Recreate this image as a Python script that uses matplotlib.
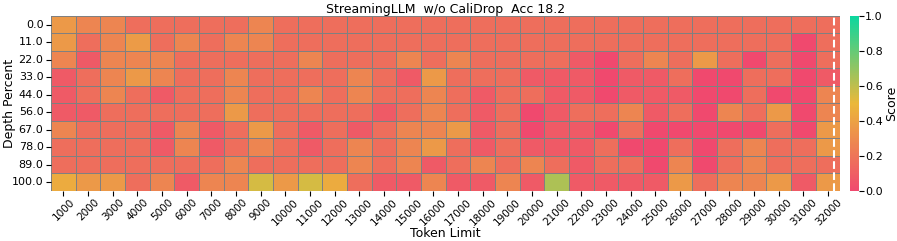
import matplotlib
matplotlib.use("Agg")
import matplotlib.pyplot as plt
from matplotlib.colors import LinearSegmentedColormap
import seaborn as sns
import numpy as np

# Token limits (columns) and depth percents (rows)
token_limits = [1000 * (i + 1) for i in range(32)]
depth_percents = [0.0, 11.0, 22.0, 33.0, 44.0, 56.0, 67.0, 78.0, 89.0, 100.0]

# Scores, one list per depth row
row_0 = [0.36, 0.27, 0.27, 0.17, 0.17, 0.17, 0.17, 0.17, 0.27, 0.17, 0.17, 0.17, 0.17, 0.17, 0.17, 0.17,
         0.17, 0.17, 0.17, 0.17, 0.17, 0.17, 0.17, 0.17, 0.17, 0.17, 0.17, 0.17, 0.17, 0.17, 0.17, 0.17]
row_11 = [0.36, 0.17, 0.27, 0.37, 0.17, 0.27, 0.17, 0.27, 0.27, 0.17, 0.17, 0.17, 0.17, 0.17, 0.17, 0.17,
          0.17, 0.17, 0.17, 0.17, 0.17, 0.17, 0.17, 0.17, 0.17, 0.17, 0.17, 0.17, 0.17, 0.17, 0.0, 0.17]
row_22 = [0.27, 0.08, 0.27, 0.27, 0.27, 0.17, 0.17, 0.17, 0.17, 0.17, 0.27, 0.17, 0.17, 0.17, 0.27, 0.17,
          0.27, 0.17, 0.17, 0.17, 0.17, 0.08, 0.0, 0.17, 0.27, 0.17, 0.36, 0.17, 0.0, 0.17, 0.0, 0.17]
row_33 = [0.08, 0.17, 0.27, 0.36, 0.27, 0.17, 0.17, 0.27, 0.17, 0.17, 0.17, 0.17, 0.27, 0.17, 0.08, 0.36,
          0.17, 0.17, 0.17, 0.08, 0.08, 0.08, 0.0, 0.08, 0.08, 0.17, 0.0, 0.0, 0.17, 0.17, 0.0, 0.08]
row_44 = [0.08, 0.17, 0.27, 0.17, 0.08, 0.17, 0.17, 0.27, 0.17, 0.17, 0.27, 0.17, 0.27, 0.17, 0.17, 0.27,
          0.17, 0.08, 0.17, 0.17, 0.08, 0.08, 0.0, 0.08, 0.08, 0.08, 0.0, 0.0, 0.17, 0.0, 0.0, 0.27]
row_56 = [0.08, 0.08, 0.17, 0.17, 0.17, 0.17, 0.17, 0.36, 0.17, 0.17, 0.17, 0.17, 0.17, 0.08, 0.17, 0.27,
          0.17, 0.08, 0.17, 0.0, 0.08, 0.17, 0.17, 0.27, 0.08, 0.17, 0.0, 0.27, 0.17, 0.36, 0.0, 0.27]
row_67 = [0.27, 0.17, 0.17, 0.17, 0.08, 0.27, 0.08, 0.17, 0.36, 0.17, 0.08, 0.17, 0.08, 0.17, 0.27, 0.27,
          0.36, 0.08, 0.17, 0.0, 0.08, 0.08, 0.0, 0.17, 0.0, 0.0, 0.0, 0.0, 0.0, 0.17, 0.0, 0.36]
row_78 = [0.17, 0.17, 0.17, 0.17, 0.08, 0.27, 0.08, 0.17, 0.27, 0.17, 0.08, 0.17, 0.27, 0.17, 0.27, 0.36,
          0.17, 0.08, 0.17, 0.08, 0.08, 0.08, 0.17, 0.0, 0.0, 0.17, 0.0, 0.17, 0.27, 0.17, 0.17, 0.36]
row_89 = [0.17, 0.17, 0.17, 0.17, 0.17, 0.17, 0.17, 0.27, 0.17, 0.17, 0.17, 0.17, 0.27, 0.17, 0.27, 0.08,
          0.17, 0.27, 0.17, 0.27, 0.17, 0.08, 0.17, 0.17, 0.0, 0.27, 0.0, 0.17, 0.27, 0.17, 0.17, 0.17]
row_100 = [0.44, 0.36, 0.36, 0.17, 0.27, 0.08, 0.27, 0.27, 0.55, 0.36, 0.55, 0.44, 0.17, 0.08, 0.08, 0.27,
           0.08, 0.08, 0.27, 0.08, 0.64, 0.08, 0.08, 0.08, 0.08, 0.36, 0.17, 0.27, 0.27, 0.36, 0.08, 0.36]

scores = np.array([row_0, row_11, row_22, row_33, row_44, row_56, row_67, row_78, row_89, row_100])

cmap = LinearSegmentedColormap.from_list("custom_cmap", ["#F0496E", "#EBB839", "#0CD79F"])

fig = plt.figure(figsize=(8.97, 2.41), dpi=100)
ax = fig.add_axes([0.057, 0.2075, 0.88, 0.7265])
cax = fig.add_axes([0.9476, 0.2075, 0.0095, 0.7265])

sns.heatmap(scores, ax=ax, cbar_ax=cax, cmap=cmap, vmin=0, vmax=1,
            linewidths=0.5, linecolor="grey",
            xticklabels=token_limits, yticklabels=depth_percents,
            cbar_kws={"label": "Score"})

ax.set_title("StreamingLLM  w/o CaliDrop  Acc 18.2", fontsize=9, pad=2)
ax.set_xlabel("Token Limit", fontsize=9, labelpad=0)
ax.set_ylabel("Depth Percent", fontsize=9)
ax.yaxis.set_label_coords(-0.045, 0.5)
ax.set_xticklabels(token_limits, rotation=45, fontsize=7.5)
ax.set_yticklabels(depth_percents, rotation=0, fontsize=8)
ax.tick_params(axis="x", pad=1)
ax.tick_params(axis="y", pad=2)

# context window marker
ax.axvline(x=31.75, color="white", linestyle="--", linewidth=1.5)

cax.tick_params(labelsize=8, pad=1)
cax.set_yticks([0.0, 0.2, 0.4, 0.6, 0.8, 1.0])
cax.set_ylabel("Score", fontsize=9, labelpad=2)

fig.savefig("out.png", dpi=100)
